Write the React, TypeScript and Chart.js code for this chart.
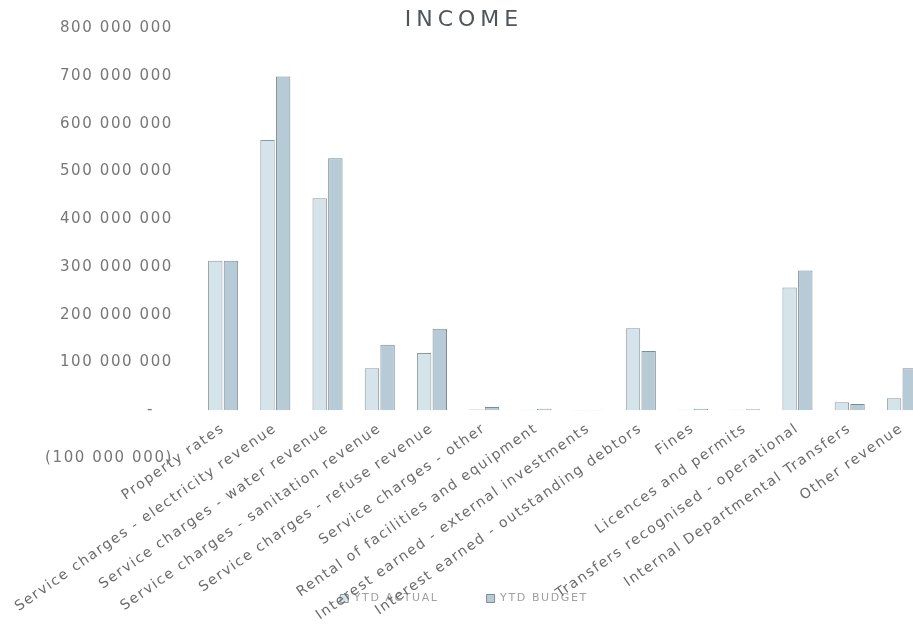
import React, { useEffect, useRef } from "react";
import { Chart, registerables } from "chart.js";

Chart.register(...registerables);

const categories = [
  "Property rates",
  "Service charges - electricity revenue",
  "Service charges - water revenue",
  "Service charges - sanitation revenue",
  "Service charges - refuse revenue",
  "Service charges - other",
  "Rental of facilities and equipment",
  "Interest earned - external investments",
  "Interest earned - outstanding debtors",
  "Fines",
  "Licences and permits",
  "Transfers recognised - operational",
  "Internal Departmental Transfers",
  "Other revenue",
];

const ytdActual = [
  313e6, 566e6, 444e6, 88e6, 120e6, 1.5e6, 1e6, 0.5e6, 172e6, 1e6, 1e6, 257e6, 17e6, 25e6,
];
const ytdBudget = [
  313e6, 699e6, 528e6, 137e6, 171e6, 7e6, 3e6, 0.4e6, 124e6, 3e6, 2e6, 293e6, 13e6, 88e6,
];

const seriesNames = ["YTD ACTUAL", "YTD BUDGET"];
const yMin = -100e6;
const yMax = 800e6;
const yStep = 100e6;

const groupThousands = (n: number) =>
  Math.round(n)
    .toString()
    .replace(/\B(?=(\d{3})+(?!\d))/g, " ");

// accounting style: zero as a dash, negatives in brackets
const formatAmount = (v: number) => {
  if (v === 0) return "-   ";
  if (v < 0) return `(${groupThousands(-v)})`;
  return groupThousands(v);
};

// widen the lettering a little, like the spaced report font
const letterSpacing = {
  id: "letterSpacing",
  afterInit(chart: any) {
    const title = chart.titleBlock;
    if (title && !title.__spaced) {
      const draw = title.draw.bind(title);
      title.draw = (...args: any[]) => {
        const ctx = chart.ctx;
        ctx.save();
        ctx.letterSpacing = "5px";
        draw(...args);
        ctx.restore();
      };
      title.__spaced = true;
    }
  },
  beforeLayout(chart: any) {
    chart.ctx.letterSpacing = "1.6px";
  },
  beforeDraw(chart: any) {
    chart.ctx.letterSpacing = "1.6px";
  },
};

export default function App() {
  const canvasRef = useRef<HTMLCanvasElement | null>(null);

  useEffect(() => {
    const canvas = canvasRef.current;
    if (!canvas) return;
    const chart = new Chart(canvas, {
      type: "bar",
      data: {
        labels: categories,
        datasets: [
          {
            label: seriesNames[0],
            data: ytdActual,
            backgroundColor: "#d5e3eb",
            borderColor: "#8e999f",
            borderWidth: 1,
            categoryPercentage: 0.6,
            barPercentage: 0.92,
          },
          {
            label: seriesNames[1],
            data: ytdBudget,
            backgroundColor: "#b7cbd6",
            borderColor: "#7f8c94",
            borderWidth: 1,
            categoryPercentage: 0.6,
            barPercentage: 0.92,
          },
        ],
      },
      plugins: [letterSpacing],
      options: {
        animation: false,
        responsive: false,
        maintainAspectRatio: false,
        layout: { padding: { left: 0, right: 8, top: 0, bottom: 10 } },
        plugins: {
          title: {
            display: true,
            text: "INCOME",
            color: "#505559",
            font: { family: "DejaVu Sans", size: 22, weight: "normal" },
            padding: { top: 7, bottom: -5 },
          },
          legend: {
            position: "bottom",
            title: {
              display: true,
              text: " ",
              font: { size: 10 },
              padding: { top: 75, bottom: 0 },
            },
            labels: {
              color: "#a0a0a0",
              font: { family: "DejaVu Sans", size: 11 },
              boxWidth: 8,
              boxHeight: 8,
              padding: 48,
            },
          },
          tooltip: { enabled: false },
        },
        scales: {
          x: {
            position: { y: 0 } as any,
            grid: { display: false },
            border: { display: false },
            ticks: {
              autoSkip: false,
              minRotation: 35,
              maxRotation: 35,
              padding: 2,
              color: "#6a6a6a",
              font: { family: "DejaVu Sans", size: 14 },
            },
          },
          y: {
            min: yMin,
            max: yMax,
            grid: { display: false },
            border: { display: false },
            afterFit(scale: any) {
              scale.width = 197;
            },
            ticks: {
              stepSize: yStep,
              padding: 16,
              color: "#777777",
              font: { family: "DejaVu Sans", size: 15 },
              callback: (v: any) => formatAmount(Number(v)),
            },
          },
        },
      },
    });
    return () => chart.destroy();
  }, []);

  return (
    <div
      style={{
        position: "fixed",
        left: 0,
        top: 0,
        width: 913,
        height: 624,
        overflow: "hidden",
        background: "#ffffff",
      }}
    >
      <canvas ref={canvasRef} width={936} height={624} style={{ display: "block" }} />
    </div>
  );
}
